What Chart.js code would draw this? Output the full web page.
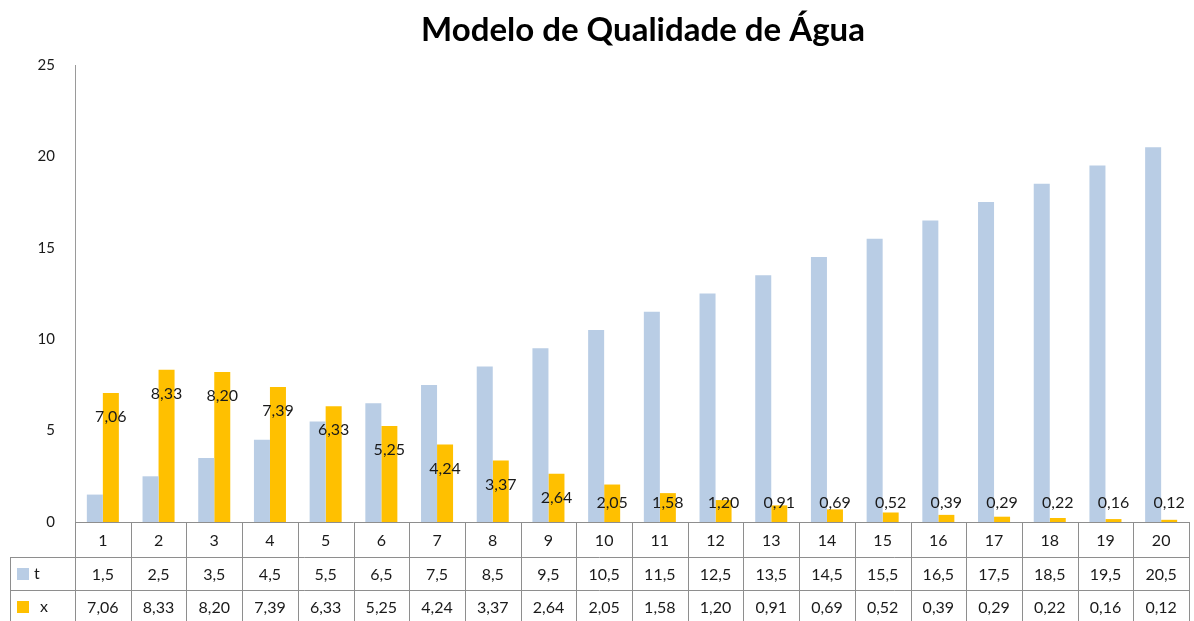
<!DOCTYPE html>
<html>
<head>
<meta charset="utf-8">
<title>Modelo de Qualidade de Água</title>
<script src="https://cdn.jsdelivr.net/npm/chart.js@4.4.0/dist/chart.umd.min.js"></script>
<style>
  html, body { margin: 0; padding: 0; background: #fff; }
  #wrap { width: 1194px; height: 621px; }
</style>
</head>
<body>
<div id="wrap"><canvas id="waterChart" width="1194" height="621"></canvas></div>
<script>
"use strict";

// Dados do gráfico
const chartTitle = "Modelo de Qualidade de Água";
const categories = ["1", "2", "3", "4", "5", "6", "7", "8", "9", "10",
                    "11", "12", "13", "14", "15", "16", "17", "18", "19", "20"];
const tValues = [1.5, 2.5, 3.5, 4.5, 5.5, 6.5, 7.5, 8.5, 9.5, 10.5,
                 11.5, 12.5, 13.5, 14.5, 15.5, 16.5, 17.5, 18.5, 19.5, 20.5];
const xValues = [7.06, 8.33, 8.20, 7.39, 6.33, 5.25, 4.24, 3.37, 2.64, 2.05,
                 1.58, 1.20, 0.91, 0.69, 0.52, 0.39, 0.29, 0.22, 0.16, 0.12];
const yTicks = [0, 5, 10, 15, 20, 25];

const tColor = "#B9CDE5";
const xColor = "#FFC000";
const textColor = "#1a1a1a";
const lineColor = "#8e8e8e";
const font = "Lato, 'Open Sans', sans-serif";

// Formato com vírgula decimal
function fmtT(v) { return String(v).replace(".", ","); }
function fmtX(v) { return v.toFixed(2).replace(".", ","); }

// Título (deslocado um pouco para a direita, como no original)
const titlePlugin = {
    id: "bigTitle",
    afterDraw(chart) {
        const ctx = chart.ctx;
        ctx.save();
        ctx.font = "bold 33px " + font;
        ctx.fillStyle = "#000";
        ctx.textAlign = "center";
        ctx.textBaseline = "middle";
        ctx.fillText(chartTitle, 643, 30);
        ctx.restore();
    }
};

// Rótulos de dados da série x
const labelPlugin = {
    id: "xLabels",
    afterDatasetsDraw(chart) {
        const ctx = chart.ctx;
        const meta = chart.getDatasetMeta(1);
        const bottom = chart.chartArea.bottom;
        ctx.save();
        ctx.font = "16px " + font;
        ctx.fillStyle = textColor;
        ctx.textAlign = "center";
        ctx.textBaseline = "middle";
        meta.data.forEach((bar, i) => {
            let y = Math.min(bar.y + 24, bottom - 19);
            ctx.fillText(fmtX(xValues[i]), bar.x, y);
        });
        ctx.restore();
    }
};

// Tabela de dados abaixo do gráfico
const tablePlugin = {
    id: "dataTable",
    afterDraw(chart) {
        const ctx = chart.ctx;
        const area = chart.chartArea;
        const xs = chart.scales.x;
        const n = categories.length;
        const w = (area.right - area.left) / n;
        const top = area.bottom;
        const rows = [top, top + 35, top + 68, top + 101];
        const leftCol = 10;

        ctx.save();
        ctx.strokeStyle = lineColor;
        ctx.lineWidth = 1;
        ctx.beginPath();
        // linhas horizontais
        ctx.moveTo(area.left, rows[0] + 0.5); ctx.lineTo(area.right, rows[0] + 0.5);
        ctx.moveTo(leftCol, rows[1] + 0.5); ctx.lineTo(area.right, rows[1] + 0.5);
        ctx.moveTo(leftCol, rows[2] + 0.5); ctx.lineTo(area.right, rows[2] + 0.5);
        // linhas verticais
        for (let i = 0; i <= n; i++) {
            let x = Math.round(area.left + i * w) + 0.5;
            ctx.moveTo(x, rows[0]); ctx.lineTo(x, rows[3]);
        }
        ctx.moveTo(leftCol + 0.5, rows[1]); ctx.lineTo(leftCol + 0.5, rows[3]);
        ctx.stroke();

        ctx.font = "16px " + font;
        ctx.fillStyle = textColor;
        ctx.textAlign = "center";
        ctx.textBaseline = "middle";
        categories.forEach((c, i) => {
            let x = xs.getPixelForValue(i);
            ctx.fillText(c, x, (rows[0] + rows[1]) / 2 + 1);
            ctx.fillText(fmtT(tValues[i]), x, (rows[1] + rows[2]) / 2 + 1);
            ctx.fillText(fmtX(xValues[i]), x, (rows[2] + rows[3]) / 2 + 1);
        });

        // legenda das linhas
        ctx.fillStyle = tColor;
        ctx.fillRect(17, rows[1] + 11, 12, 12);
        ctx.fillStyle = xColor;
        ctx.fillRect(17, rows[2] + 11, 12, 12);
        ctx.fillStyle = textColor;
        ctx.textAlign = "left";
        ctx.fillText("t", 34, (rows[1] + rows[2]) / 2);
        ctx.fillText("x", 40, (rows[2] + rows[3]) / 2);
        ctx.restore();
    }
};

const ctx = document.getElementById("waterChart");

new Chart(ctx, {
    type: "bar",
    data: {
        labels: categories,
        datasets: [
            { label: "t", data: tValues, backgroundColor: tColor },
            { label: "x", data: xValues, backgroundColor: xColor }
        ]
    },
    options: {
        responsive: false,
        animation: false,
        layout: { padding: { left: 0, right: 5, top: 65, bottom: 99 } },
        datasets: {
            bar: { categoryPercentage: 0.575, barPercentage: 1.0 }
        },
        plugins: {
            legend: { display: false },
            tooltip: { enabled: false },
            title: { display: false }
        },
        scales: {
            x: {
                display: false
            },
            y: {
                min: 0,
                max: 25,
                afterBuildTicks: (scale) => {
                    scale.ticks = yTicks.map(v => ({ value: v }));
                },
                afterFit: (scale) => { scale.width = 75; },
                grid: { display: false, drawTicks: false },
                border: { display: true, color: "#9a9a9a", width: 1 },
                ticks: {
                    color: textColor,
                    padding: 20,
                    font: { family: font, size: 15 }
                }
            }
        }
    },
    plugins: [labelPlugin, tablePlugin, titlePlugin]
});
</script>
</body>
</html>
